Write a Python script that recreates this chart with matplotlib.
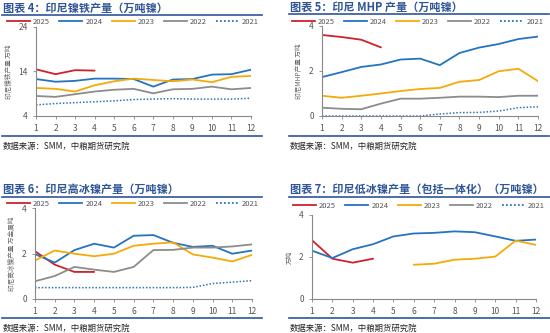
import matplotlib
matplotlib.use("Agg")
import matplotlib.pyplot as plt
from matplotlib.lines import Line2D
import numpy as np

plt.rcParams['font.family'] = ['Noto Sans CJK SC', 'DejaVu Sans']

months = list(range(1, 13))
years = ['2025', '2024', '2023', '2022', '2021']

# Panel 4: ferronickel
fe_2025 = [14.5, 13.4, 14.3, 14.2]
fe_2024 = [12.3, 11.7, 11.9, 12.4, 12.4, 12.3, 10.6, 12.2, 12.3, 13.3, 13.4, 14.4]
fe_2023 = [10.3, 10.1, 9.5, 10.9, 11.8, 12.4, 12.1, 11.8, 12.2, 11.6, 12.8, 13.0]
fe_2022 = [8.5, 8.3, 8.9, 9.5, 9.9, 10.1, 9.1, 10.0, 10.1, 10.6, 10.0, 10.3]
fe_2021 = [6.5, 6.8, 7.0, 7.2, 7.4, 7.7, 7.8, 7.9, 7.8, 7.8, 7.8, 8.0]

# Panel 5: MHP
mhp_2025 = [3.60, 3.51, 3.39, 3.05]
mhp_2024 = [1.73, 1.95, 2.18, 2.29, 2.51, 2.55, 2.26, 2.80, 3.04, 3.20, 3.42, 3.53]
mhp_2023 = [0.90, 0.81, 0.90, 1.00, 1.11, 1.20, 1.25, 1.52, 1.60, 1.99, 2.10, 1.55]
mhp_2022 = [0.37, 0.32, 0.30, 0.55, 0.77, 0.77, 0.81, 0.86, 0.86, 0.84, 0.90, 0.90]
mhp_2021 = [0, 0, 0, 0, 0, 0, 0.09, 0.15, 0.16, 0.22, 0.37, 0.41]

# Panel 6: high-grade matte
hm_2025 = [2.10, 1.51, 1.19, 1.19]
hm_2024 = [1.97, 1.60, 2.15, 2.43, 2.26, 2.78, 2.81, 2.47, 2.29, 2.34, 1.99, 2.13]
hm_2023 = [1.69, 2.13, 1.99, 1.88, 1.99, 2.34, 2.43, 2.49, 1.96, 1.82, 1.65, 1.94]
hm_2022 = [0.78, 1.01, 1.41, 1.29, 1.19, 1.41, 2.15, 2.16, 2.26, 2.26, 2.31, 2.40]
hm_2021 = [0.50, 0.50, 0.50, 0.50, 0.50, 0.50, 0.50, 0.50, 0.51, 0.68, 0.74, 0.81]

# Panel 7: low-grade matte
lm_2025 = [2.80, 1.92, 1.73, 1.92]
lm_2024 = [2.30, 1.95, 2.37, 2.61, 2.98, 3.12, 3.15, 3.22, 3.18, 2.98, 2.77, 2.83]
lm_2023 = [np.nan] * 5 + [1.63, 1.68, 1.87, 1.92, 2.02, 2.78, 2.58]
lm_2022 = []
lm_2021 = []

colors = {'2025': '#D0202A', '2024': '#2474C0', '2023': '#F5AA0A',
          '2022': '#8C8C8C', '2021': '#2E75B6'}
styles = {'2025': '-', '2024': '-', '2023': '-', '2022': '-', '2021': (0, (1, 1.2))}

W, H = 550, 333
fig = plt.figure(figsize=(5.5, 3.33), dpi=100)
navy = '#2F5597'

def fx(px):
    return px / W

def fy(py):
    return 1 - py / H

panels = [
    dict(title='图表 4：印尼镍铁产量（万吨镍）', data=[fe_2025, fe_2024, fe_2023, fe_2022, fe_2021],
         ax=(36, 27, 251, 116), ylim=(4, 24), yticks=[4, 14, 24], ylabel='印尼镍铁产量 万吨',
         tline=(2, 262, 15), ty=8, tx=3, legy=22, legx=(8, 258), foot=(2, 262, 136), src=146),
    dict(title='图表 5：印尼 MHP 产量（万吨镍）', data=[mhp_2025, mhp_2024, mhp_2023, mhp_2022, mhp_2021],
         ax=(322, 26, 538, 116), ylim=(0, 4), yticks=[0, 2, 4], ylabel='印尼MHP产量 万吨',
         tline=(289, 549, 14), ty=7, tx=290, legy=22, legx=(292, 543), foot=(289, 549, 136), src=146),
    dict(title='图表 6：印尼高冰镍产量（万吨镍）', data=[hm_2025, hm_2024, hm_2023, hm_2022, hm_2021],
         ax=(35, 208, 252, 299), ylim=(0, 4), yticks=[0, 2, 4], ylabel='印尼高冰镍产量 万金属吨',
         tline=(2, 262, 197), ty=189, tx=3, legy=204, legx=(8, 258), foot=(2, 262, 318), src=328),
    dict(title='图表 7：印尼低冰镍产量（包括一体化）（万吨镍）', data=[lm_2025, lm_2024, lm_2023, lm_2022, lm_2021],
         ax=(312, 215, 536, 299), ylim=(0, 4), yticks=[0, 2, 4], ylabel='万吨',
         tline=(289, 550, 197), ty=189, tx=290, legy=206, legx=(295, 543), foot=(289, 550, 318), src=328),
]

for p in panels:
    x0, y0, x1, y1 = p['ax']
    ax = fig.add_axes([fx(x0), fy(y1), fx(x1 - x0), (y1 - y0) / H])
    for yr, vals in zip(years, p['data']):
        if len(vals) == 0:
            continue
        xs = months[:len(vals)]
        ax.plot(xs, vals, color=colors[yr], linestyle=styles[yr],
                linewidth=1.3 if yr != '2021' else 1.1, solid_capstyle='round')
    ax.set_xlim(1, 12)
    ax.set_ylim(*p['ylim'])
    ax.set_xticks(months)
    ax.set_yticks(p['yticks'])
    for s in ['top', 'right']:
        ax.spines[s].set_visible(False)
    for s in ['left', 'bottom']:
        ax.spines[s].set_color('#888888')
        ax.spines[s].set_linewidth(0.8)
    ax.tick_params(axis='both', labelsize=6, colors='#888888', labelcolor='#555555',
                   length=2, width=0.6, pad=4)
    ax.set_ylabel(p['ylabel'], fontsize=4.8, color='#666666', labelpad=4)
    fig.text(fx(p['tx']), fy(p['ty']), p['title'], fontsize=8, fontweight='bold',
             color=navy, va='center', ha='left')
    a, b, c = p['tline']
    fig.add_artist(Line2D([fx(a), fx(b)], [fy(c), fy(c)], color=navy, linewidth=1.2))
    a, b, c = p['foot']
    fig.add_artist(Line2D([fx(a), fx(b)], [fy(c), fy(c)], color=navy, linewidth=1.2))
    fig.text(fx(p['tx']), fy(p['src']), '数据来源：SMM，中粮期货研究院', fontsize=6,
             color='#222222', va='center', ha='left', style='italic')
    handles = [Line2D([], [], color=colors[y], linestyle=styles[y], linewidth=1.3) for y in years]
    lx0, lx1 = p['legx']
    leg = fig.legend(handles, years, loc='center', ncol=5, frameon=False,
                     bbox_to_anchor=(fx((lx0 + lx1) / 2), fy(p['legy'])),
                     fontsize=5.5, handlelength=3.0, columnspacing=1.2, handletextpad=0.4,
                     borderaxespad=0, borderpad=0)
    for t in leg.get_texts():
        t.set_color('#555555')

fig.savefig('out.png', dpi=100)
